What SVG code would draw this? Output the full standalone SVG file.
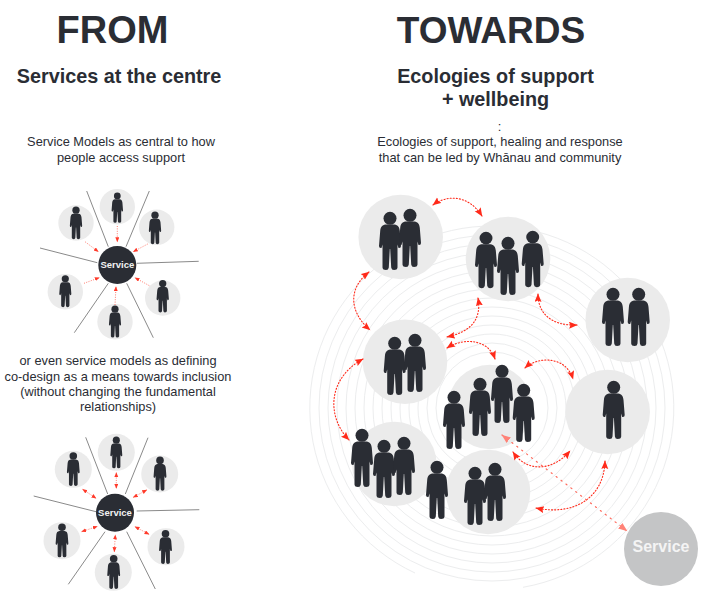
<svg xmlns="http://www.w3.org/2000/svg" width="710" height="600" viewBox="0 0 710 600">
<style>
text{font-family:"Liberation Sans",Arial,sans-serif;fill:#2a2d34;text-anchor:middle}
.h1{font-size:38px;font-weight:700}
.h2{font-size:19.800px;font-weight:700}
.t{font-size:12.800px}
.bub{fill:#ebebeb}
.per{fill:#2a2d34}
.ring{fill:none;stroke:#ecedee;stroke-width:1}
.spoke{stroke:#8a8a8a;stroke-width:1;fill:none}
.ar{fill:none;stroke:#ff2a1a;stroke-width:1.100;stroke-dasharray:1.100 2;stroke-linecap:round;marker-start:url(#mb);marker-end:url(#mb)}
.sa{fill:none;stroke:#ff5a4a;stroke-width:.8;stroke-dasharray:1 1.400;marker-end:url(#ms)}
.sb{marker-start:url(#ms)}
.lt{fill:none;stroke:#ff6a5c;stroke-width:1.200;stroke-dasharray:1.200 5;stroke-linecap:round;marker-start:url(#ml);marker-end:url(#ml)}
.svc{fill:#2a2d34}
.svct{fill:#f2f2f2;font-size:9.500px;font-weight:700}
</style>
<defs>
<marker id="mb" markerUnits="userSpaceOnUse" markerWidth="10" markerHeight="8" refX="8" refY="3.500" orient="auto-start-reverse"><path d="M0 0L8.500 3.500L0 7L1.400 3.500Z" fill="#ff2a1a"/></marker>
<marker id="ms" markerUnits="userSpaceOnUse" markerWidth="6" markerHeight="5" refX="4.500" refY="2" orient="auto-start-reverse"><path d="M0 0L5 2L0 4Z" fill="#ff3a2a"/></marker>
<marker id="ml" markerUnits="userSpaceOnUse" markerWidth="10" markerHeight="8" refX="8.500" refY="3.500" orient="auto-start-reverse"><path d="M0 0L9 3.500L0 7Z" fill="#ff8277"/></marker>
<g id="p"><circle cx="0" cy="6.300" r="6.500"/><path d="M-4.500 12.500C-8 13-9.300 15-9.800 19L-11 34Q-11 36.500-8.500 36L-7.500 32.500L-7.500 55.500Q-7.300 58-4 58Q-1.500 58-1.200 55.500L-.2 37H.2L1.200 55.500Q1.500 58 4 58Q7.300 58 7.500 55.500L7.500 32.500L8.500 36Q11 36.500 11 34L9.800 19C9.300 15 8 13 4.500 12.500Z"/></g>
</defs>

<g id="titles">
<text class="h1" x="112.500" y="43">FROM</text>
<text class="h1" x="491" y="43" style="font-size:37px">TOWARDS</text>
<text class="h2" x="119" y="83">Services at the centre</text>
<text class="h2" x="495.500" y="83">Ecologies of support</text>
<text class="h2" x="495.500" y="106">+ wellbeing</text>
<text class="t" x="121" y="146">Service Models as central to how</text>
<text class="t" x="121" y="162">people access support</text>
<text class="t" x="499.500" y="131">:</text>
<text class="t" x="500" y="146">Ecologies of support, healing and response</text>
<text class="t" x="500" y="162">that can be led by Whānau and community</text>
<text class="t" x="118" y="365">or even service models as defining</text>
<text class="t" x="118" y="380.500">co-design as a means towards inclusion</text>
<text class="t" x="118" y="396">(without changing the fundamental</text>
<text class="t" x="118" y="411">relationships)</text>
</g>

<g id="rings">
<path class="ring" d="M523 587.300A182 182 0 1 0 415 573"/><circle class="ring" cx="492" cy="408" r="173"/><circle class="ring" cx="492" cy="408" r="164"/><circle class="ring" cx="492" cy="408" r="155"/><circle class="ring" cx="492" cy="408" r="146"/><circle class="ring" cx="492" cy="408" r="137"/><circle class="ring" cx="492" cy="408" r="128"/><circle class="ring" cx="492" cy="408" r="119"/><circle class="ring" cx="492" cy="408" r="110"/><circle class="ring" cx="492" cy="408" r="101"/><circle class="ring" cx="492" cy="408" r="92"/><circle class="ring" cx="492" cy="408" r="83"/><circle class="ring" cx="492" cy="408" r="74"/><circle class="ring" cx="492" cy="408" r="65"/><circle class="ring" cx="492" cy="408" r="56"/>
</g>

<g id="spokes-top" class="spoke">
<path d="M86.700 191L108.300 246.700M149.300 191L126 246.700M40 248L97.300 262.700M198.700 261.300L136.700 263.300M74.300 332.700L108.300 283.300M153.300 337.700L126.700 283.300"/>
</g>
<g id="spokes-bottom" class="spoke">
<path d="M85.700 437.300L107.700 494M148 437.700L125.300 494M33.700 496L96 511.700M199.300 509.700L136.700 511M68.300 584.300L105 531.700M155.300 589L126.700 531.700"/>
</g>

<g id="top-people" class="per">
<g id="t1"><circle class="bub" cx="117.300" cy="206.700" r="17.700"/><use href="#p" transform="translate(117.300 192.700) scale(.52)"/></g>
<g id="t2"><circle class="bub" cx="76" cy="223" r="17.700"/><use href="#p" transform="translate(76 206.700) scale(.56)"/></g>
<g id="t3"><circle class="bub" cx="156.700" cy="227.300" r="17.700"/><use href="#p" transform="translate(155 211.700) scale(.56)"/></g>
<g id="t4"><circle class="bub" cx="65.300" cy="291.700" r="17.700"/><use href="#p" transform="translate(65.300 275.300) scale(.55)"/></g>
<g id="t5"><circle class="bub" cx="162.700" cy="298" r="17.700"/><use href="#p" transform="translate(162.700 280) scale(.56)"/></g>
<g id="t6"><circle class="bub" cx="115" cy="321.700" r="17.700"/><use href="#p" transform="translate(115 305.700) scale(.55)"/></g>
</g>
<g id="top-service"><circle class="svc" cx="117.300" cy="265" r="19"/><text class="svct" x="117.300" y="268.300">Service</text></g>

<g id="bottom-people" class="per">
<g id="b1"><circle class="bub" cx="116.300" cy="452.300" r="18.500"/><use href="#p" transform="translate(116.300 436.700) scale(.545)"/></g>
<g id="b2"><circle class="bub" cx="73.300" cy="469.300" r="18.500"/><use href="#p" transform="translate(73.300 452.300) scale(.58)"/></g>
<g id="b3"><circle class="bub" cx="159.700" cy="474" r="18.500"/><use href="#p" transform="translate(160 456.700) scale(.585)"/></g>
<g id="b4"><circle class="bub" cx="62" cy="540.700" r="18.500"/><use href="#p" transform="translate(62 523.700) scale(.58)"/></g>
<g id="b5"><circle class="bub" cx="166" cy="546.700" r="18.500"/><use href="#p" transform="translate(165.500 530) scale(.585)"/></g>
<g id="b6"><circle class="bub" cx="113.300" cy="572.300" r="18.500"/><use href="#p" transform="translate(113.700 555) scale(.585)"/></g>
</g>
<g id="bottom-service"><circle class="svc" cx="115" cy="512.700" r="19"/><text class="svct" x="115" y="516">Service</text></g>

<g id="eco-nodes" class="per">
<g id="c1"><circle class="bub" cx="400.700" cy="237" r="42.300"/><use href="#p" transform="translate(390 212)"/><use href="#p" transform="translate(410 209)"/></g>
<g id="c2"><circle class="bub" cx="508" cy="259" r="42.300"/><use href="#p" transform="translate(486 232) scale(1 .97)"/><use href="#p" transform="translate(508 237)"/><use href="#p" transform="translate(532.700 231) scale(1 .97)"/></g>
<g id="c3"><circle class="bub" cx="627.700" cy="320" r="42.300"/><use href="#p" transform="translate(613 288)"/><use href="#p" transform="translate(638.700 288)"/></g>
<g id="c4"><circle class="bub" cx="405" cy="361.700" r="42.300"/><use href="#p" transform="translate(394.700 337)"/><use href="#p" transform="translate(415 334)"/></g>
<g id="c5"><circle class="bub" cx="607.700" cy="412" r="42.300"/><use href="#p" transform="translate(613.700 381)"/></g>
<g id="c6"><circle class="bub" cx="394.300" cy="464" r="42.300"/><use href="#p" transform="translate(362 429)"/><use href="#p" transform="translate(384 440)"/><use href="#p" transform="translate(404 437)"/></g>
<g id="c8"><circle class="bub" cx="490" cy="407" r="42.300"/><use href="#p" transform="translate(454 391)"/><use href="#p" transform="translate(480 378)"/><use href="#p" transform="translate(502 365)"/><use href="#p" transform="translate(523.700 384)"/></g>
<g id="c7"><circle class="bub" cx="488" cy="492" r="42.300"/><use href="#p" transform="translate(475 467)"/><use href="#p" transform="translate(495 463)"/><use href="#p" transform="translate(437 461)"/></g>
<g id="service"><circle cx="661" cy="549" r="37" fill="#c4c5c6"/><text x="661" y="552" style="fill:#f4f4f4;font-size:16px;font-weight:700">Service</text></g>
</g>

<g id="connectors">
<path class="sa" d="M117.300 226V241.700"/><path class="sa" d="M85 241.700L98.300 251.700"/><path class="sa" d="M147.700 244L133.300 251.700"/><path class="sa" d="M84 283.300L99.300 277.700"/><path class="sa" d="M149.300 285.700L135 277.700"/><path class="sa" d="M115 305L116 286.700"/>
<path class="sa sb" d="M116.300 472.700V488.300"/><path class="sa sb" d="M82.700 489.300L96 498.300"/><path class="sa sb" d="M146.700 490L133.300 497.300"/><path class="sa sb" d="M81.700 531.700L97.300 526.300"/><path class="sa sb" d="M149 534.300L135 526.700"/><path class="sa sb" d="M114.300 551.700L115.300 535"/>
<path class="ar" d="M433 205C446 195 468 194 482 216"/>
<path class="ar" d="M369 272C348 288 349 312 370 330"/>
<path class="ar" d="M478 298C482 320 470 332 447 337"/>
<path class="ar" d="M447 348C462 338 488 338 495 359"/>
<path class="ar" d="M538 294C538 314 552 326 577 325"/>
<path class="ar" d="M525 368C538 356 566 356 573 379"/>
<path class="ar" d="M363 359C328 378 326 416 349 440"/>
<path class="ar" d="M513 452C526 472 552 472 570 451"/>
<path class="ar" d="M536 508C574 516 604 498 605 461"/>
<path class="lt" d="M502 435L627 531"/>
</g>
</svg>
